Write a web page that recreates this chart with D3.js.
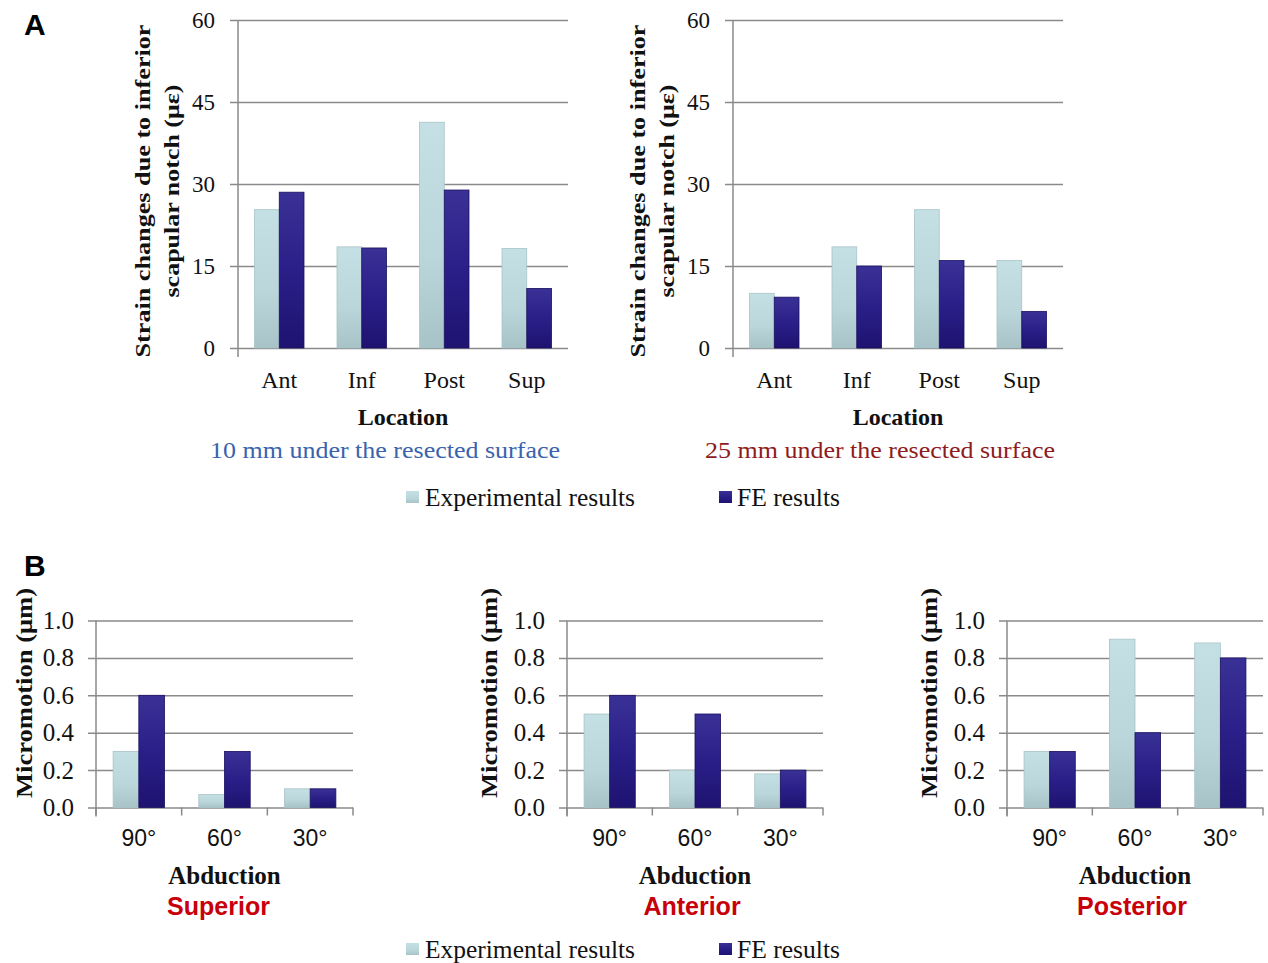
<!DOCTYPE html>
<html>
<head>
<meta charset="utf-8">
<script src="https://cdn.jsdelivr.net/npm/d3@7/dist/d3.min.js"></script>
<style>
  html, body { margin: 0; padding: 0; background: #fff; }
  svg { display: block; }
</style>
</head>
<body>
<svg id="fig" width="1268" height="963"></svg>
<script>
// ---- Panel A: strain changes due to the inferior scapular notch ----
const locations = ["Ant", "Inf", "Post", "Sup"];
const strainTicks = [0, 15, 30, 45, 60];
const strain10Exp = [25.3, 18.5, 41.3, 18.2];
const strain10FE  = [28.5, 18.3, 28.9, 10.9];
const strain25Exp = [10.0, 18.5, 25.3, 16.0];
const strain25FE  = [9.3, 15.0, 16.0, 6.7];

// ---- Panel B: micromotion by abduction angle ----
const abductions = ["90°", "60°", "30°"];
const micromotionTicks = [0, 0.2, 0.4, 0.6, 0.8, 1.0];
const superiorExp  = [0.30, 0.07, 0.10];
const superiorFE   = [0.60, 0.30, 0.10];
const anteriorExp  = [0.50, 0.20, 0.18];
const anteriorFE   = [0.60, 0.50, 0.20];
const posteriorExp = [0.30, 0.90, 0.88];
const posteriorFE  = [0.30, 0.40, 0.80];

const seriesNames = ["Experimental results", "FE results"];

const svg = d3.select("#fig");
const SERIF = "'Liberation Serif', 'Times New Roman', serif";
const SANS = "'Liberation Sans', Arial, sans-serif";
const GRID = "#8a8a8a";

// bar fills with a soft vertical shading
const defs = svg.append("defs");
function grad(id, stops) {
  const g = defs.append("linearGradient").attr("id", id)
    .attr("x1", 0).attr("y1", 0).attr("x2", 0).attr("y2", 1);
  stops.forEach(([o, c]) => g.append("stop").attr("offset", o).attr("stop-color", c));
}
grad("gExp", [[0, "#c5e0e5"], [0.6, "#bad6da"], [1, "#a7c3c7"]]);
grad("gFE",  [[0, "#3a3196"], [0.5, "#2a1f88"], [1, "#1e1370"]]);
const fills = ["url(#gExp)", "url(#gFE)"];
const strokes = ["#a9c4c8", "#1a1060"];

function drawChart(o) {
  const g = svg.append("g");
  const y = d3.scaleLinear().domain([0, o.yMax]).range([o.bottom, o.top]);
  const x = d3.scaleBand().domain(o.categories).range([o.left, o.right]);
  const inner = d3.scaleBand().domain([0, 1])
    .range([x.bandwidth() * 0.2, x.bandwidth() * 0.8]);

  // gridlines + tick labels
  const yAxis = g.append("g").attr("transform", `translate(${o.left},0)`)
    .call(d3.axisLeft(y).tickValues(o.ticks).tickFormat(o.tickFormat)
      .tickSize(-(o.right - o.left)).tickPadding(o.tickPad));
  yAxis.select(".domain").remove();
  yAxis.selectAll(".tick line").attr("x1", -8).attr("stroke", GRID).attr("stroke-width", 1.5);
  yAxis.selectAll(".tick text")
    .attr("font-family", SERIF).attr("font-size", o.tickFont).attr("fill", "#111");

  // bars
  const rows = o.categories.map((c, i) => ({ c, v: [o.exp[i], o.fe[i]] }));
  const grp = g.selectAll(".grp").data(rows).join("g")
    .attr("transform", d => `translate(${x(d.c)},0)`);
  grp.selectAll("rect").data(d => d.v.map((v, k) => ({ v, k }))).join("rect")
    .attr("x", d => inner(d.k))
    .attr("width", inner.bandwidth())
    .attr("y", d => y(d.v))
    .attr("height", d => y(0) - y(d.v))
    .attr("fill", d => fills[d.k])
    .attr("stroke", d => strokes[d.k])
    .attr("stroke-width", 0.8);

  // vertical axis line
  g.append("line").attr("x1", o.left).attr("x2", o.left)
    .attr("y1", o.top).attr("y2", o.bottom + 9)
    .attr("stroke", GRID).attr("stroke-width", 1.5);

  // category separators on the baseline
  if (o.catTicks) {
    const edges = o.categories.map(c => x(c)).concat([o.right]);
    g.selectAll(".sep").data(edges).join("line")
      .attr("x1", d => d).attr("x2", d => d)
      .attr("y1", o.bottom).attr("y2", o.bottom + 8)
      .attr("stroke", GRID).attr("stroke-width", 1.5);
  }

  // category labels
  g.selectAll(".cat").data(o.categories).join("text")
    .attr("x", d => x(d) + x.bandwidth() / 2)
    .attr("y", o.catY).attr("dy", "0.35em")
    .attr("text-anchor", "middle")
    .attr("font-family", o.catFamily).attr("font-size", o.catFont).attr("fill", "#111")
    .text(d => d);

  // axis titles
  const cx = (o.left + o.right) / 2;
  g.append("text").attr("x", cx).attr("y", o.titleY).attr("dy", "0.35em")
    .attr("text-anchor", "middle").attr("font-family", SERIF)
    .attr("font-weight", "bold").attr("font-size", o.titleFont).attr("fill", "#111")
    .text(o.xTitle);

  o.yLines.forEach((line, i) => {
    g.append("text")
      .attr("transform", `translate(${o.left + o.yOffsets[i]},${o.yLabelY}) rotate(-90)`)
      .attr("dy", "0.35em").attr("text-anchor", "middle")
      .attr("font-family", SERIF).attr("font-weight", "bold")
      .attr("font-size", o.yFont).attr("fill", "#111")
      .attr("textLength", o.yLengths[i]).attr("lengthAdjust", "spacingAndGlyphs")
      .text(line);
  });

  const sub = g.append("text").attr("x", cx + o.subDx).attr("y", o.subY).attr("dy", "0.35em")
    .attr("text-anchor", "middle").attr("font-family", o.subFamily)
    .attr("font-weight", o.subWeight).attr("font-size", o.subFont)
    .attr("fill", o.subColor).text(o.subtitle);
  if (o.subLength) sub.attr("textLength", o.subLength).attr("lengthAdjust", "spacingAndGlyphs");
}

const strainLabel = ["Strain changes due to inferior", "scapular notch (με)"];
const topCommon = {
  categories: locations, yMax: 60, ticks: strainTicks, tickFormat: d3.format("d"),
  top: 20, bottom: 348, tickPad: 23, tickFont: 23,
  catY: 380, catFamily: SERIF, catFont: 24, catTicks: false,
  xTitle: "Location", titleY: 417, titleFont: 24,
  yLines: strainLabel, yOffsets: [-96, -67], yLengths: [333, 213], yLabelY: 191, yFont: 22,
  subY: 450, subDx: -18, subFamily: SERIF, subWeight: "normal", subFont: 24, subLength: 350
};
drawChart(Object.assign({}, topCommon, {
  left: 238, right: 568, exp: strain10Exp, fe: strain10FE,
  subtitle: "10 mm under the resected surface", subColor: "#3a63ad"
}));
drawChart(Object.assign({}, topCommon, {
  left: 733, right: 1063, exp: strain25Exp, fe: strain25FE,
  subtitle: "25 mm under the resected surface", subColor: "#8e1c1c"
}));

const botCommon = {
  categories: abductions, yMax: 1.0, ticks: micromotionTicks, tickFormat: d3.format(".1f"),
  top: 620.5, bottom: 807.5, tickPad: 22, tickFont: 25,
  catY: 838, catFamily: SANS, catFont: 23, catTicks: true,
  xTitle: "Abduction", titleY: 875, titleFont: 25,
  yLines: ["Micromotion (μm)"], yLengths: [210], yLabelY: 693, yFont: 23,
  subY: 906, subFamily: SANS, subWeight: "bold", subFont: 25, subColor: "#c8000a"
};
drawChart(Object.assign({}, botCommon, {
  left: 96, right: 353, exp: superiorExp, fe: superiorFE,
  yOffsets: [-72], subtitle: "Superior", subDx: -6
}));
drawChart(Object.assign({}, botCommon, {
  left: 567, right: 823, exp: anteriorExp, fe: anteriorFE,
  yOffsets: [-78], subtitle: "Anterior", subDx: -3
}));
drawChart(Object.assign({}, botCommon, {
  left: 1007, right: 1263, exp: posteriorExp, fe: posteriorFE,
  yOffsets: [-78], subtitle: "Posterior", subDx: -3
}));

// legends
function legend(yc) {
  const items = [
    { name: seriesNames[0], sx: 406, tx: 425, len: 210 },
    { name: seriesNames[1], sx: 719, tx: 737, len: 103 }
  ];
  items.forEach((it, k) => {
    svg.append("rect").attr("x", it.sx).attr("y", yc - 6).attr("width", 13).attr("height", 12)
      .attr("fill", fills[k]);
    svg.append("text").attr("x", it.tx).attr("y", yc).attr("dy", "0.35em")
      .attr("font-family", SERIF).attr("font-size", 25).attr("fill", "#111")
      .attr("textLength", it.len).attr("lengthAdjust", "spacingAndGlyphs")
      .text(it.name);
  });
}
legend(497);
legend(949);

// panel letters
[["A", 24, 35], ["B", 24, 576]].forEach(([t, x, yb]) => {
  svg.append("text").attr("x", x).attr("y", yb)
    .attr("font-family", SANS).attr("font-weight", "bold").attr("font-size", 30)
    .attr("fill", "#000").text(t);
});
</script>
</body>
</html>
